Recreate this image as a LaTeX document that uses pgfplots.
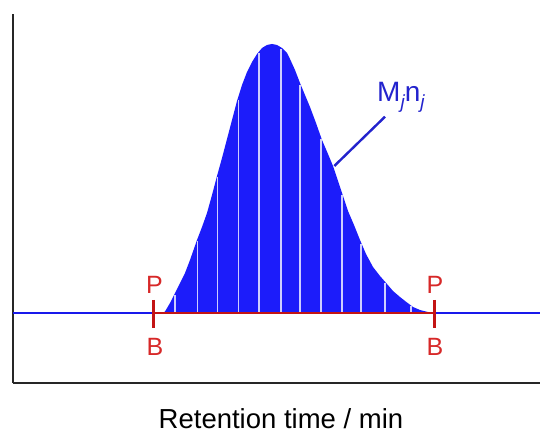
\documentclass[border=0pt]{standalone}
\usepackage{pgfplots}
\pgfplotsset{compat=1.18}
\usepackage{fontspec}
\setmainfont{Liberation Sans}
\definecolor{pkblue}{RGB}{28,28,250}
\definecolor{lnblue}{RGB}{25,25,235}
\definecolor{pkred}{RGB}{195,20,20}
\definecolor{txred}{RGB}{215,40,40}
\definecolor{whl}{RGB}{205,205,255}
\definecolor{txblue}{RGB}{35,35,205}
\begin{document}
\begin{tikzpicture}
\begin{axis}[
  x=1pt, y=1pt,
  xmin=13, xmax=540, ymin=-70, ymax=299,
  axis lines=left,
  axis line style={-, line width=1.6pt, black!85},
  xtick=\empty, ytick=\empty,
  clip=false,
]
% peak (height above baseline)
\addplot[fill=pkblue, draw=none] coordinates {
(162,0) (165,1.5) (170,10) (175,20) (180,30) (185,40) (190,53) (197,73)
(202,86) (207,100) (212,118) (217,137) (222,155) (227,174) (232,193)
(237,212) (242,228) (247,241) (252,251) (257,259) (262,265) (267,268)
(272,269) (277,268) (282,265) (287,260) (290,254) (295,243) (300,230)
(305,218) (310,206) (316,190) (322,173) (328,159) (333,147) (338,132)
(343,117) (348,102) (354,88) (360,73) (366,59) (373,46) (380,37)
(387,29) (393,22) (400,16) (407,10.5) (413,6) (420,3) (427,1.2) (434,0)
} \closedcycle;
% white slice lines
\addplot[ycomb, whl, line width=1.3pt] coordinates {
(175,18) (197.5,72) (217.5,136) (238.5,213) (259,260) (281,264)
(300,228) (321,174) (342,118) (361,69) (385,30) (411,7)
};
% baseline
\addplot[lnblue, line width=2.6pt] coordinates {(13,0) (540,0)};
\addplot[pkred, line width=2.6pt] coordinates {(153.3,0) (434.5,0)};
\addplot[pkred, line width=3pt] coordinates {(153.3,13) (153.3,-15.3)};
\addplot[pkred, line width=3pt] coordinates {(434.5,13) (434.5,-15.3)};
% pointer
\addplot[txblue, line width=2.4pt] coordinates {(385,196.3) (334.3,147)};
\node[txred, font=\fontsize{25}{28}\selectfont, inner sep=0pt] at (axis cs:154.5,28) {P};
\node[txred, font=\fontsize{25}{28}\selectfont, inner sep=0pt] at (axis cs:155,-33.7) {B};
\node[txred, font=\fontsize{25}{28}\selectfont, inner sep=0pt] at (axis cs:435,28) {P};
\node[txred, font=\fontsize{25}{28}\selectfont, inner sep=0pt] at (axis cs:435,-33.7) {B};
\node[txblue, font=\fontsize{28}{32}\selectfont, inner sep=0pt, anchor=base west] at (axis cs:377,211.3)
  {M\raisebox{-0.26em}{\fontsize{19}{21}\selectfont\itshape j}n\raisebox{-0.26em}{\fontsize{19}{21}\selectfont\itshape j}};
\node[black, font=\fontsize{27.5}{31}\selectfont, inner sep=0pt] at (axis cs:281,-105.5) {Retention time / min};
\end{axis}
\pgfresetboundingbox
\useasboundingbox (-13pt,-50pt) rectangle (527pt,383pt);
\end{tikzpicture}
\end{document}
